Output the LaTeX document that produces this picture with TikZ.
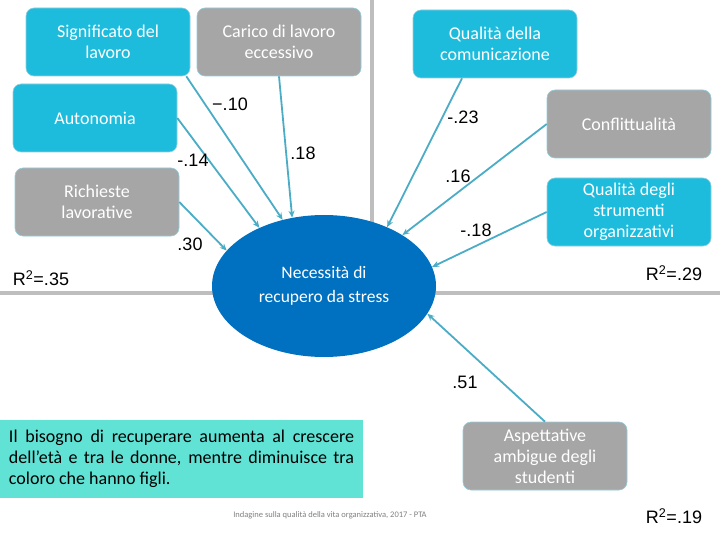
\documentclass[tikz,border=0pt]{standalone}
\usepackage{fontspec}
\setmainfont{Carlito}
\newfontfamily\arialfont{Liberation Sans}
\usetikzlibrary{shapes.geometric,arrows.meta}
\definecolor{boxcyan}{RGB}{29,188,221}
\definecolor{boxgray}{RGB}{166,166,166}
\definecolor{ellblue}{RGB}{0,112,192}
\definecolor{arrcol}{RGB}{75,172,198}
\definecolor{noteteal}{RGB}{96,227,213}
\definecolor{sepgray}{RGB}{190,190,190}
\begin{document}
\begin{tikzpicture}[x=1pt,y=-1pt,
    factor/.style={rounded corners=8pt, draw=arrcol!60!white, line width=0.6pt,
      minimum width=164pt, minimum height=68pt, align=center, text=white,
      font=\fontsize{18}{21}\selectfont},
    cyanbox/.style={factor, fill=boxcyan},
    graybox/.style={factor, fill=boxgray},
    coef/.style={font=\arialfont\fontsize{18}{18}\selectfont},
    rsq/.style={font=\arialfont\fontsize{18}{18}\selectfont},
    path/.style={draw=arrcol, line width=1.8pt, -{Stealth[length=7pt,width=6pt]}}]
    \useasboundingbox (0,0) rectangle (720,540);

    % separators
    \draw[sepgray, line width=4pt] (372,0) -- (372,230);
    \draw[sepgray, line width=4pt] (0,293) -- (720,293);

    % outcome
    \node[ellipse, fill=ellblue, minimum width=224pt, minimum height=142pt, inner sep=0pt,
      align=center, text=white, font=\fontsize{17.5}{24}\selectfont] (nrs) at (324,286)
      {Necessità di\\recupero da stress};

    % predictors
    \node[cyanbox] (sig) at (108,42) {Significato del\\lavoro};
    \node[graybox] (car) at (279,42) {Carico di lavoro\\eccessivo};
    \node[cyanbox] (qcom) at (495,44) {Qualità della\\comunicazione};
    \node[cyanbox] (aut) at (95,118) {Autonomia};
    \node[graybox] (conf) at (629,124) {Conflittualità};
    \node[graybox] (ric) at (97,202) {Richieste\\lavorative};
    \node[cyanbox] (str) at (629,212) {Qualità degli\\strumenti\\organizzativi};
    \node[graybox] (asp) at (545,456) {Aspettative\\ambigue degli\\studenti};

    % paths
    \draw[path] ([xshift=-4pt]sig.south east) -- (nrs.122);
    \draw[path] (car.south) -- (nrs.115);
    \draw[path] (aut.east) -- (nrs.138);
    \draw[path] (ric.east) -- (nrs.160);
    \draw[path] ([xshift=-33pt]qcom.south) -- (nrs.43);
    \draw[path] (conf.west) -- (nrs.33);
    \draw[path] (str.west) -- (nrs.10);
    \draw[path] (asp.north) -- (nrs.-15);

    % coefficients
    \node[coef] (c1) at (230,104) {−.10};
    \node[coef] (c2) at (303,153) {.18};
    \node[coef] (c3) at (193,160) {-.14};
    \node[coef] (c4) at (190,244) {.30};
    \node[coef] (c5) at (463,117) {-.23};
    \node[coef] (c6) at (458,176) {.16};
    \node[coef] (c7) at (476,230) {-.18};
    \node[coef] (c8) at (465,382) {.51};

    % explained variance
    \node[rsq] (r1) at (41,278) {R\textsuperscript{2}=.35};
    \node[rsq] (r2) at (674,273) {R\textsuperscript{2}=.29};
    \node[rsq] (r3) at (674,516) {R\textsuperscript{2}=.19};

    % note and footer
    \node[fill=noteteal, minimum width=363pt, minimum height=78pt, text width=345pt,
      align=justify, font=\fontsize{18}{21}\selectfont] (note) at (181.5,459)
      {Il bisogno di recuperare aumenta al crescere dell’età e tra le donne, mentre diminuisce tra coloro che hanno figli.};
    \node[text=gray, font=\fontsize{8.5}{10}\selectfont] (foot) at (330,515)
      {Indagine sulla qualità della vita organizzativa, 2017 - PTA};
\end{tikzpicture}
\end{document}
